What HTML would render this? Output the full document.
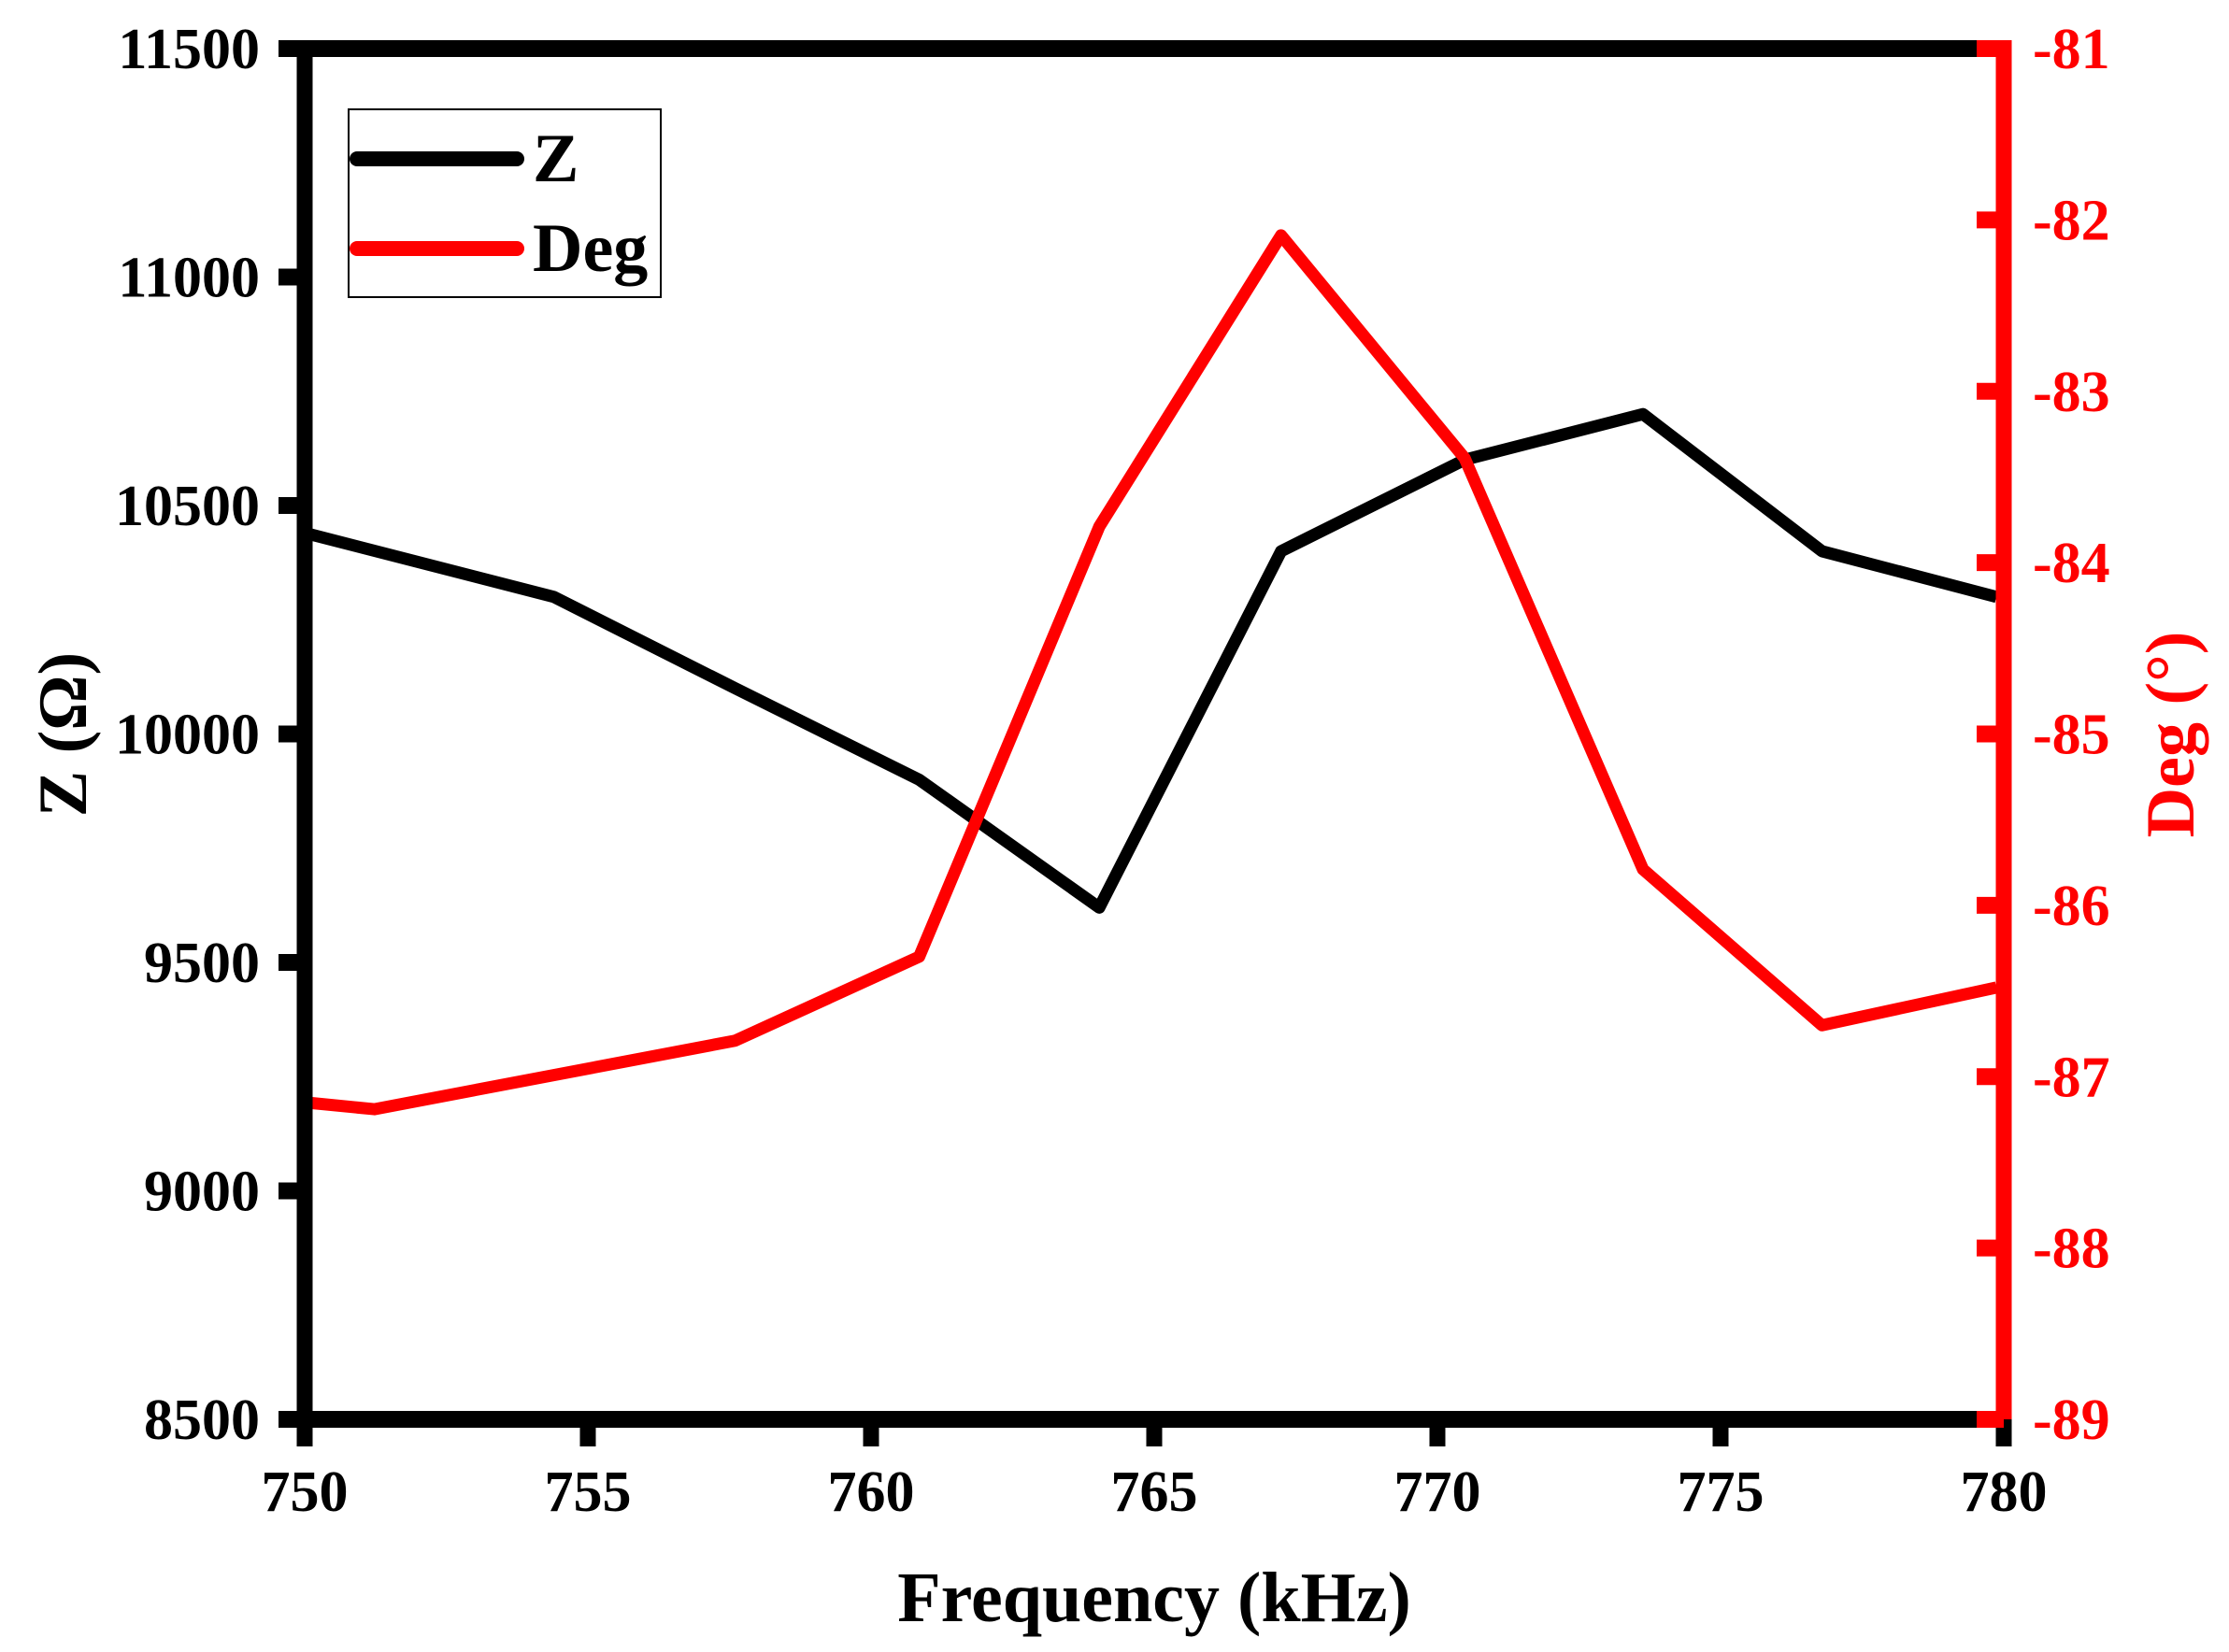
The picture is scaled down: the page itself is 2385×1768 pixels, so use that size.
<!DOCTYPE html>
<html><head><meta charset="utf-8"><style>
html,body{margin:0;padding:0;background:#fff;}
svg{display:block;font-family:"Liberation Serif",serif;font-weight:bold;}
</style></head><body>
<svg id="chart" width="2385" height="1768" viewBox="0 0 2385 1768" xmlns="http://www.w3.org/2000/svg">
<rect width="2385" height="1768" fill="#fff"/>
<g id="marks"></g>
<g id="axes"></g>
<g>
<rect x="373" y="117" width="334" height="201" fill="#fff" stroke="#000" stroke-width="2"/>
<line x1="382" y1="170" x2="553" y2="170" stroke="#000" stroke-width="16" stroke-linecap="round"/>
<text x="570" y="194" font-size="74">Z</text>
<line x1="382" y1="266" x2="553" y2="266" stroke="#f00" stroke-width="16" stroke-linecap="round"/>
<text x="570" y="290" font-size="74">Deg</text>
</g>
<text x="1235" y="1735" font-size="76" text-anchor="middle">Frequency (kHz)</text>
<text transform="translate(92,786) rotate(-90)" font-size="74" text-anchor="middle">Z (Ω)</text>
<text transform="translate(2347,786) rotate(-90)" font-size="74" text-anchor="middle" fill="#f00">Deg (°)</text>
</svg>
<script>
const zFreq = [750, 754.4, 757.6, 760.85, 764.03, 767.24, 770.48, 773.63, 776.79, 779.87];
const zValues = [10440, 10300, 10100, 9900, 9620, 10400, 10600, 10700, 10400, 10300];
const degFreq = [750, 751.23, 757.6, 760.85, 764.03, 767.24, 770.48, 773.63, 776.79, 779.87];
const degValues = [-87.15, -87.19, -86.79, -86.30, -83.79, -82.09, -83.39, -85.79, -86.70, -86.48];
const xTicks = [750, 755, 760, 765, 770, 775, 780];
const zTicks = [8500, 9000, 9500, 10000, 10500, 11000, 11500];
const degTicks = [-89, -88, -87, -86, -85, -84, -83, -82, -81];

const NS = "http://www.w3.org/2000/svg";
const X0 = 326, X1 = 2144, Y0 = 1519, Y1 = 52;
function xs(v){ return X0 + (v - 750) / 30 * (X1 - X0); }
function yz(v){ return Y0 - (v - 8500) / 3000 * (Y0 - Y1); }
function yd(v){ return Y0 - (v + 89) / 8 * (Y0 - Y1); }
function mk(tag, attrs){ const e = document.createElementNS(NS, tag); for (const k in attrs) e.setAttribute(k, attrs[k]); return e; }

const marksG = document.getElementById('marks');
const axesG = document.getElementById('axes');

const zLine = mk('polyline', {points: zFreq.map((f,i)=>xs(f)+','+yz(zValues[i])).join(' '), fill:'none', stroke:'#000', 'stroke-width':13, 'stroke-linejoin':'round'});


marksG.appendChild(zLine);
const dLine = mk('polyline', {points: degFreq.map((f,i)=>xs(f)+','+yd(degValues[i])).join(' '), fill:'none', stroke:'#f00', 'stroke-width':13, 'stroke-linejoin':'round'});


marksG.appendChild(dLine);

const topAxis = mk('line', {x1:298, y1:Y1, x2:X1-8, y2:Y1, stroke:'#000', 'stroke-width':18});


axesG.appendChild(topAxis);
const bottomAxis = mk('line', {x1:298, y1:Y0, x2:X1, y2:Y0, stroke:'#000', 'stroke-width':18});


axesG.appendChild(bottomAxis);
const leftAxis = mk('line', {x1:X0, y1:Y1-9, x2:X0, y2:Y0+9, stroke:'#000', 'stroke-width':17});


axesG.appendChild(leftAxis);
const rightAxis = mk('line', {x1:X1, y1:Y1-9, x2:X1, y2:Y0+9, stroke:'#f00', 'stroke-width':17});


axesG.appendChild(rightAxis);

xTicks.forEach(t=>{
  const l = mk('line', {x1:xs(t), y1:Y0, x2:xs(t), y2:1548, stroke:'#000', 'stroke-width':17});
  
  
  axesG.appendChild(l);
  const tx = mk('text', {x:xs(t), y:1617, 'font-size':62, 'text-anchor':'middle'});
  tx.textContent = t;
  
  
  axesG.appendChild(tx);
});
zTicks.forEach(t=>{
  if (t !== 8500 && t !== 11500) {
    const l = mk('line', {x1:298, y1:yz(t), x2:X0, y2:yz(t), stroke:'#000', 'stroke-width':18});
    
    
    axesG.appendChild(l);
  }
  const tx = mk('text', {x:278, y:yz(t)+21, 'font-size':62, 'text-anchor':'end'});
  tx.textContent = t;
  
  
  axesG.appendChild(tx);
});
degTicks.forEach(t=>{
  const l = mk('line', {x1:2115, y1:yd(t), x2:X1, y2:yd(t), stroke:'#f00', 'stroke-width':18});
  
  
  axesG.appendChild(l);
  const tx = mk('text', {x:2175, y:yd(t)+21, 'font-size':62, fill:'#f00'});
  tx.textContent = t;
  
  
  axesG.appendChild(tx);
});
</script>
</body></html>
